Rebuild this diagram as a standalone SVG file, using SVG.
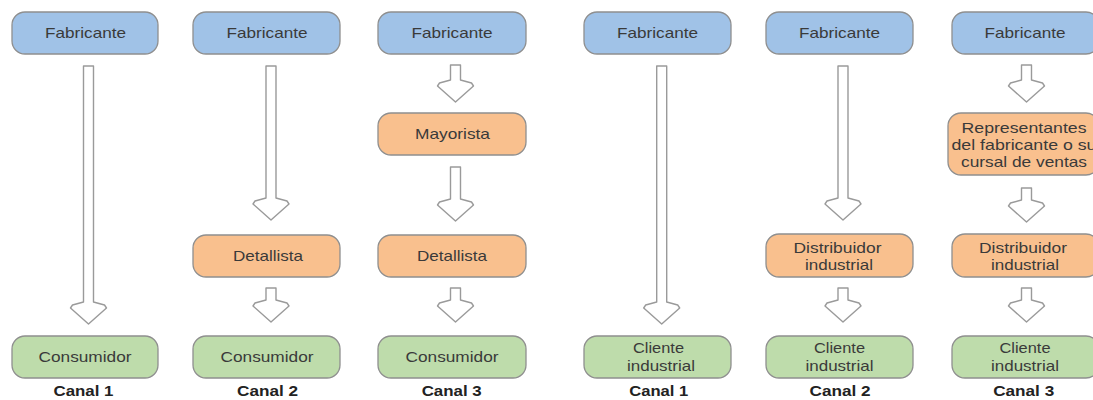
<svg xmlns="http://www.w3.org/2000/svg" width="1093" height="400" viewBox="0 0 1093 400">
  <defs>
    <style>
      .box { stroke: #8f8f8f; stroke-width: 1.3; }
      .maker { fill: #a0c2e7; }
      .mid { fill: #f9c08e; }
      .client { fill: #bedcab; }
      .lbl { font-family: "Liberation Sans", Arial, sans-serif; font-size: 14.5px; fill: #3a3a3a; text-anchor: middle; }
      .canal { font-family: "Liberation Sans", Arial, sans-serif; font-size: 14px; font-weight: bold; fill: #222; text-anchor: middle; }
      .arrow { fill: #ffffff; stroke: #9a9a9a; stroke-width: 1.4; stroke-linejoin: round; }
    </style>
  </defs>
  <rect width="1093" height="400" fill="#ffffff"/>

  <!-- connectors: hollow block arrows -->
  <g id="connectors">
    <!-- consumer channel 1 -->
    <path class="arrow" d="M83.5 66 H93.5 V302 L104.5 305 L106.5 308 L88.5 324 L70.5 308 L72.5 305 L83.5 302 Z"/>
    <!-- consumer channel 2 -->
    <path class="arrow" d="M266 66 H276 V198 L287 201 L289 204 L271 220 L253 204 L255 201 L266 198 Z"/>
    <path class="arrow" d="M266 288 H276 V300 L287 303 L289 306 L271 322 L253 306 L255 303 L266 300 Z"/>
    <!-- consumer channel 3 -->
    <path class="arrow" d="M450.5 65 H460.5 V80 L471.5 83 L473.5 86 L455.5 102 L437.5 86 L439.5 83 L450.5 80 Z"/>
    <path class="arrow" d="M450.5 167 H460.5 V199 L471.5 202 L473.5 205 L455.5 221 L437.5 205 L439.5 202 L450.5 199 Z"/>
    <path class="arrow" d="M450.5 288 H460.5 V300 L471.5 303 L473.5 306 L455.5 322 L437.5 306 L439.5 303 L450.5 300 Z"/>
    <!-- industrial channel 1 -->
    <path class="arrow" d="M656.7 66 H666.7 V302 L677.7 305 L679.7 308 L661.7 324 L643.7 308 L645.7 305 L656.7 302 Z"/>
    <!-- industrial channel 2 -->
    <path class="arrow" d="M838 66 H848 V198 L859 201 L861 204 L843 220 L825 204 L827 201 L838 198 Z"/>
    <path class="arrow" d="M838 288 H848 V300 L859 303 L861 306 L843 322 L825 306 L827 303 L838 300 Z"/>
    <!-- industrial channel 3 -->
    <path class="arrow" d="M1021.5 65 H1031.5 V80 L1042.5 83 L1044.5 86 L1026.5 102 L1008.5 86 L1010.5 83 L1021.5 80 Z"/>
    <path class="arrow" d="M1021.5 188 H1031.5 V200 L1042.5 203 L1044.5 206 L1026.5 222 L1008.5 206 L1010.5 203 L1021.5 200 Z"/>
    <path class="arrow" d="M1021.5 288 H1031.5 V300 L1042.5 303 L1044.5 306 L1026.5 322 L1008.5 306 L1010.5 303 L1021.5 300 Z"/>
  </g>

  <!-- column 1: consumer goods, direct -->
  <g id="c1-fabricante">
    <rect class="box maker" x="12" y="12" width="146" height="42" rx="13"/>
    <text class="lbl" x="85.5" y="38" textLength="81" lengthAdjust="spacingAndGlyphs">Fabricante</text>
  </g>
  <g id="c1-consumidor">
    <rect class="box client" x="12" y="336" width="146" height="42" rx="13"/>
    <text class="lbl" x="85" y="362" textLength="93" lengthAdjust="spacingAndGlyphs">Consumidor</text>
  </g>
  <text class="canal" x="83.5" y="396" textLength="60" lengthAdjust="spacingAndGlyphs">Canal 1</text>

  <!-- column 2 -->
  <g id="c2-fabricante">
    <rect class="box maker" x="193" y="12" width="147" height="42" rx="13"/>
    <text class="lbl" x="267" y="38" textLength="81" lengthAdjust="spacingAndGlyphs">Fabricante</text>
  </g>
  <g id="c2-detallista">
    <rect class="box mid" x="193" y="235" width="147" height="42" rx="13"/>
    <text class="lbl" x="268" y="261" textLength="70" lengthAdjust="spacingAndGlyphs">Detallista</text>
  </g>
  <g id="c2-consumidor">
    <rect class="box client" x="193" y="336" width="147" height="42" rx="13"/>
    <text class="lbl" x="267" y="362" textLength="93" lengthAdjust="spacingAndGlyphs">Consumidor</text>
  </g>
  <text class="canal" x="267.5" y="396" textLength="61" lengthAdjust="spacingAndGlyphs">Canal 2</text>

  <!-- column 3 -->
  <g id="c3-fabricante">
    <rect class="box maker" x="378" y="12" width="148" height="42" rx="13"/>
    <text class="lbl" x="452" y="38" textLength="81" lengthAdjust="spacingAndGlyphs">Fabricante</text>
  </g>
  <g id="c3-mayorista">
    <rect class="box mid" x="378" y="113" width="148" height="42" rx="13"/>
    <text class="lbl" x="452.5" y="139" textLength="75" lengthAdjust="spacingAndGlyphs">Mayorista</text>
  </g>
  <g id="c3-detallista">
    <rect class="box mid" x="378" y="235" width="148" height="42" rx="13"/>
    <text class="lbl" x="452" y="261" textLength="70" lengthAdjust="spacingAndGlyphs">Detallista</text>
  </g>
  <g id="c3-consumidor">
    <rect class="box client" x="378" y="336" width="148" height="42" rx="13"/>
    <text class="lbl" x="452" y="362" textLength="93" lengthAdjust="spacingAndGlyphs">Consumidor</text>
  </g>
  <text class="canal" x="451.7" y="396" textLength="60" lengthAdjust="spacingAndGlyphs">Canal 3</text>

  <!-- column 4: industrial goods, direct -->
  <g id="c4-fabricante">
    <rect class="box maker" x="584" y="12" width="147" height="42" rx="13"/>
    <text class="lbl" x="657.5" y="38" textLength="81" lengthAdjust="spacingAndGlyphs">Fabricante</text>
  </g>
  <g id="c4-cliente">
    <rect class="box client" x="584" y="336" width="147" height="42" rx="13"/>
    <text class="lbl" x="658.5" y="353" textLength="51" lengthAdjust="spacingAndGlyphs">Cliente</text>
    <text class="lbl" x="661" y="371" textLength="68" lengthAdjust="spacingAndGlyphs">industrial</text>
  </g>
  <text class="canal" x="658.8" y="396" textLength="59" lengthAdjust="spacingAndGlyphs">Canal 1</text>

  <!-- column 5 -->
  <g id="c5-fabricante">
    <rect class="box maker" x="766" y="12" width="147" height="42" rx="13"/>
    <text class="lbl" x="839.5" y="38" textLength="81" lengthAdjust="spacingAndGlyphs">Fabricante</text>
  </g>
  <g id="c5-distribuidor">
    <rect class="box mid" x="766" y="234" width="147" height="43" rx="13"/>
    <text class="lbl" x="837.5" y="252.5" textLength="88" lengthAdjust="spacingAndGlyphs">Distribuidor</text>
    <text class="lbl" x="839" y="270" textLength="68" lengthAdjust="spacingAndGlyphs">industrial</text>
  </g>
  <g id="c5-cliente">
    <rect class="box client" x="766" y="336" width="147" height="42" rx="13"/>
    <text class="lbl" x="839.5" y="353" textLength="51" lengthAdjust="spacingAndGlyphs">Cliente</text>
    <text class="lbl" x="839.5" y="371" textLength="68" lengthAdjust="spacingAndGlyphs">industrial</text>
  </g>
  <text class="canal" x="840" y="396" textLength="61" lengthAdjust="spacingAndGlyphs">Canal 2</text>

  <!-- column 6 -->
  <g id="c6-fabricante">
    <rect class="box maker" x="952" y="12" width="147" height="42" rx="13"/>
    <text class="lbl" x="1025" y="38" textLength="81" lengthAdjust="spacingAndGlyphs">Fabricante</text>
  </g>
  <g id="c6-representantes">
    <rect class="box mid" x="948" y="113" width="151" height="62" rx="13"/>
    <text class="lbl" x="1024" y="133" textLength="125" lengthAdjust="spacingAndGlyphs">Representantes</text>
    <text class="lbl" x="1024" y="150" textLength="145" lengthAdjust="spacingAndGlyphs">del fabricante o su</text>
    <text class="lbl" x="1024" y="167" textLength="126" lengthAdjust="spacingAndGlyphs">cursal de ventas</text>
  </g>
  <g id="c6-distribuidor">
    <rect class="box mid" x="952" y="234" width="147" height="43" rx="13"/>
    <text class="lbl" x="1023" y="252.5" textLength="88" lengthAdjust="spacingAndGlyphs">Distribuidor</text>
    <text class="lbl" x="1025" y="270" textLength="68" lengthAdjust="spacingAndGlyphs">industrial</text>
  </g>
  <g id="c6-cliente">
    <rect class="box client" x="952" y="336" width="147" height="42" rx="13"/>
    <text class="lbl" x="1025" y="353" textLength="51" lengthAdjust="spacingAndGlyphs">Cliente</text>
    <text class="lbl" x="1025" y="371" textLength="68" lengthAdjust="spacingAndGlyphs">industrial</text>
  </g>
  <text class="canal" x="1023.7" y="396" textLength="61" lengthAdjust="spacingAndGlyphs">Canal 3</text>
</svg>
